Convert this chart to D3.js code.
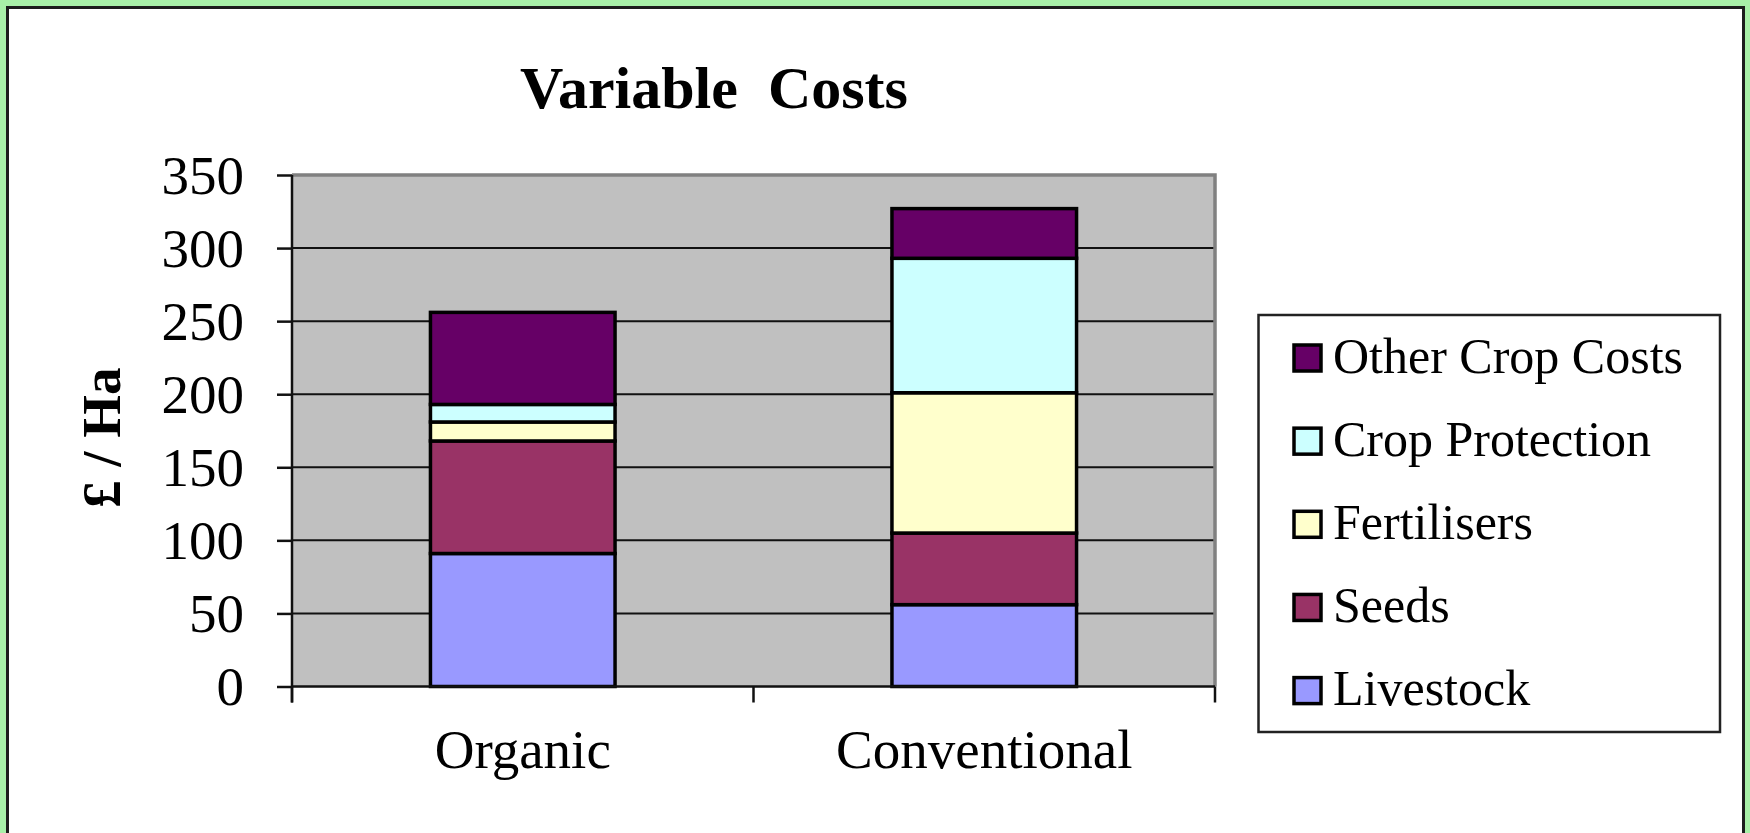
<!DOCTYPE html>
<html>
<head>
<meta charset="utf-8">
<script src="https://cdn.jsdelivr.net/npm/d3@7/dist/d3.min.js"></script>
<style>
  html, body { margin: 0; padding: 0; background: #ffffff; }
  svg { display: block; }
  text { font-family: "Liberation Serif", "Times New Roman", serif; fill: #000; }
</style>
</head>
<body>
<svg id="chart" width="1750" height="833"></svg>
<script>
// Farm variable costs per hectare, by system
const categories = ["Organic", "Conventional"];
const seriesNames = ["Livestock", "Seeds", "Fertilisers", "Crop Protection", "Other Crop Costs"];
const livestock      = [91, 56];
const seeds          = [77, 49];
const fertilisers    = [13, 96];
const cropProtection = [12, 92];
const otherCropCosts = [63, 34];
const yTicks = [0, 50, 100, 150, 200, 250, 300, 350];
const seriesColors = ["#9999FF", "#993366", "#FFFFCC", "#CCFFFF", "#660066"];

const rows = categories.map((c, i) => ({
  category: c,
  "Livestock": livestock[i],
  "Seeds": seeds[i],
  "Fertilisers": fertilisers[i],
  "Crop Protection": cropProtection[i],
  "Other Crop Costs": otherCropCosts[i]
}));

const svg = d3.select("#chart");
const W = 1750, H = 833;

// outer frame
svg.append("rect").attr("x", 0).attr("y", 0).attr("width", W).attr("height", H).attr("fill", "#A8F0A8");
svg.append("rect").attr("x", 7.5).attr("y", 7.5).attr("width", 1736).attr("height", 850)
  .attr("fill", "#ffffff").attr("stroke", "#1c1c1c").attr("stroke-width", 3);

// plot area
const plot = { left: 292, right: 1215, top: 175, bottom: 686.5 };

const x = d3.scaleBand().domain(categories)
  .range([plot.left, plot.right]).paddingInner(0.6).paddingOuter(0.3);
const y = d3.scaleLinear().domain([0, 350]).range([plot.bottom, plot.top]);
const color = d3.scaleOrdinal().domain(seriesNames).range(seriesColors);

svg.append("rect")
  .attr("x", plot.left).attr("y", plot.top)
  .attr("width", plot.right - plot.left).attr("height", plot.bottom - plot.top)
  .attr("fill", "#C0C0C0");

// gridlines
svg.append("g").selectAll("line")
  .data(yTicks.filter(v => v > 0 && v < 350))
  .join("line")
  .attr("x1", plot.left).attr("x2", plot.right)
  .attr("y1", d => y(d)).attr("y2", d => y(d))
  .attr("stroke", "#111").attr("stroke-width", 2);

// plot border (top & right)
svg.append("path")
  .attr("d", `M${plot.left},${plot.top}H${plot.right}V${plot.bottom}`)
  .attr("fill", "none").attr("stroke", "#808080").attr("stroke-width", 3.5);

// stacked bars
const stacked = d3.stack().keys(seriesNames)(rows);
svg.append("g").selectAll("g")
  .data(stacked)
  .join("g")
  .attr("fill", d => color(d.key))
  .selectAll("rect")
  .data(d => d)
  .join("rect")
  .attr("x", d => x(d.data.category))
  .attr("width", x.bandwidth())
  .attr("y", d => y(d[1]))
  .attr("height", d => y(d[0]) - y(d[1]))
  .attr("stroke", "#000").attr("stroke-width", 3.5);

// y axis
const yAxis = svg.append("g")
  .attr("transform", `translate(${plot.left},0)`)
  .call(d3.axisLeft(y).tickValues(yTicks).tickSize(15).tickPadding(33).tickSizeOuter(0));
yAxis.select(".domain").attr("stroke", "#111").attr("stroke-width", 2.5)
  .attr("d", `M0,${plot.top}V${plot.bottom + 16}`);
yAxis.selectAll(".tick line").attr("stroke", "#111").attr("stroke-width", 2.5);
yAxis.selectAll(".tick text")
  .attr("font-size", 55).attr("font-family", "Liberation Serif, serif")
  .attr("fill", "#000").attr("dy", "0.33em");

// x axis
const xAxis = svg.append("g")
  .attr("transform", `translate(0,${plot.bottom})`)
  .call(d3.axisBottom(x).tickSize(0).tickSizeOuter(0));
xAxis.select(".domain").attr("stroke", "#111").attr("stroke-width", 2.5)
  .attr("d", `M${plot.left},0H${plot.right}`);
xAxis.selectAll(".tick text")
  .attr("font-size", 55).attr("font-family", "Liberation Serif, serif")
  .attr("fill", "#000").attr("y", 81.5).attr("dy", 0);
// tick marks between categories
const sep = [plot.left, (plot.left + plot.right) / 2, plot.right];
xAxis.append("g").selectAll("line")
  .data(sep).join("line")
  .attr("x1", d => d).attr("x2", d => d)
  .attr("y1", 0).attr("y2", 16)
  .attr("stroke", "#111").attr("stroke-width", 2.5);

// titles
svg.append("text")
  .attr("x", 714).attr("y", 108)
  .attr("text-anchor", "middle")
  .attr("font-size", 60).attr("font-weight", "bold")
  .style("white-space", "pre")
  .text("Variable  Costs");

svg.append("text")
  .attr("transform", `translate(120,${(plot.top + plot.bottom) / 2 + 7}) rotate(-90)`)
  .attr("text-anchor", "middle")
  .attr("font-size", 55).attr("font-weight", "bold")
  .style("white-space", "pre")
  .text("£ / Ha");

// legend
const legend = svg.append("g");
legend.append("rect")
  .attr("x", 1258.5).attr("y", 315).attr("width", 461.5).attr("height", 417)
  .attr("fill", "#fff").attr("stroke", "#222").attr("stroke-width", 2.5);
const legendItems = seriesNames.slice().reverse();
const ly = d3.scalePoint().domain(legendItems).range([358, 690.6]);
const li = legend.selectAll("g.item")
  .data(legendItems).join("g").attr("class", "item")
  .attr("transform", d => `translate(0,${ly(d)})`);
li.append("rect")
  .attr("x", 1294).attr("y", -13).attr("width", 27).attr("height", 26)
  .attr("fill", d => color(d)).attr("stroke", "#000").attr("stroke-width", 3.5);
li.append("text")
  .attr("x", 1333).attr("y", 14.5)
  .attr("font-size", 50)
  .text(d => d);
</script>
</body>
</html>
